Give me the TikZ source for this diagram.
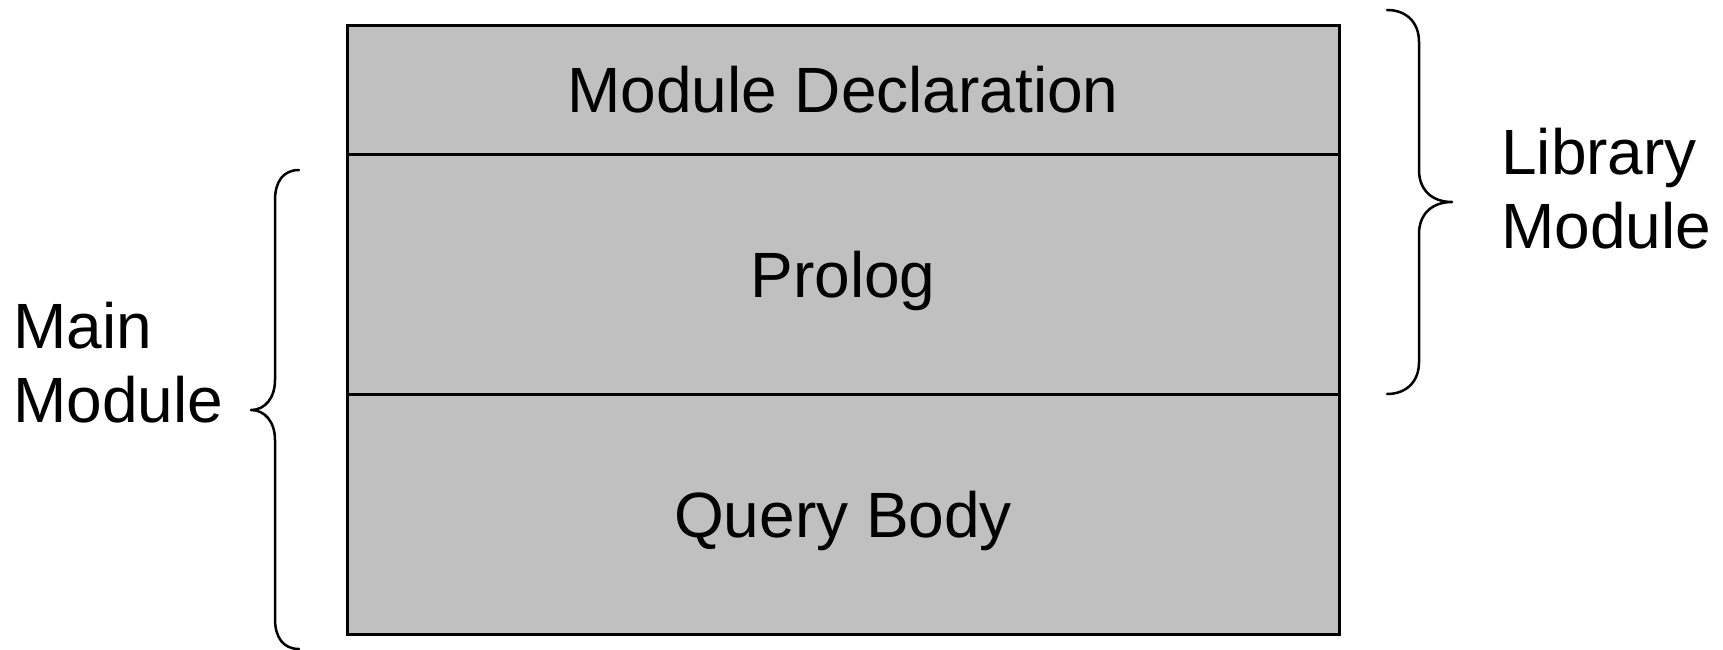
\documentclass[tikz,border=0pt]{standalone}
\usepackage{fontspec}
\setmainfont{Liberation Sans}
\begin{document}
\begin{tikzpicture}[x=1pt,y=-1pt,
  layer/.style={draw=black, line width=3pt, fill={rgb,255:red,192;green,192;blue,192},
    minimum width=992pt, inner sep=0pt, text height=46pt, text depth=0pt,
    font=\fontsize{64}{74}\selectfont},
  bracepath/.style={draw=black, line width=2.5pt, line cap=round, line join=round},
  sidelabel/.style={anchor=base west, align=left, inner sep=0pt,
    font=\fontsize{64}{74}\selectfont}]
  \useasboundingbox (0,0) rectangle (1723,650);

  % stacked module parts
  \node[layer, minimum height=128pt] (decl) at (843,90) {Module Declaration};
  \node[layer, minimum height=240pt] (prolog) at (843,274) {Prolog};
  \node[layer, minimum height=240pt] (body) at (843,514) {Query Body};

  % brace spanning prolog and query body
  \draw[bracepath] (299,170) .. controls (283,170) and (275,182) .. (275,200)
    -- (275,380) .. controls (275,398) and (265,410) .. (251,410)
    .. controls (265,410) and (275,422) .. (275,440)
    -- (275,619) .. controls (275,637) and (283,649) .. (299,649);
  % the label's base anchor sits on its last line
  \node[sidelabel] (main) at (13,422) {Main\\Module};

  % brace spanning declaration and prolog
  \draw[bracepath] (1387,10) .. controls (1406,10) and (1419,22) .. (1419,42)
    -- (1419,170) .. controls (1419,190) and (1432,202) .. (1452,202)
    .. controls (1432,202) and (1419,214) .. (1419,234)
    -- (1419,362) .. controls (1419,382) and (1406,394) .. (1387,394);
  \node[sidelabel] (library) at (1501,248) {Library\\Module};
\end{tikzpicture}
\end{document}
